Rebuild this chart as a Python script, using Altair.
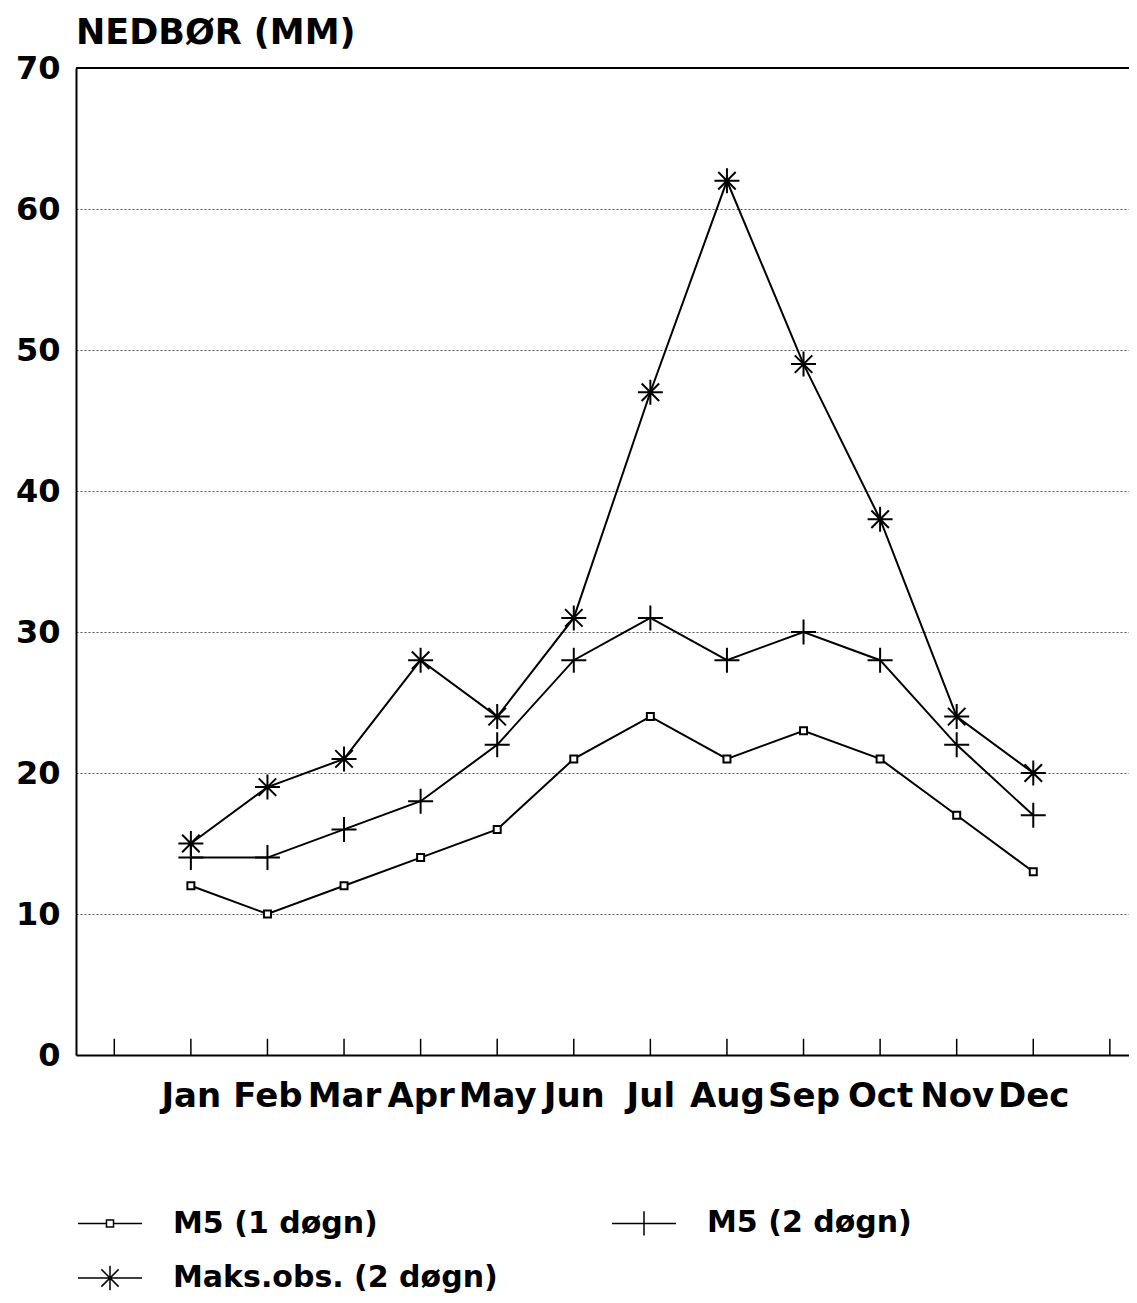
import altair as alt
import pandas as pd

MONTHS = ["Jan", "Feb", "Mar", "Apr", "May", "Jun", "Jul", "Aug", "Sep", "Oct", "Nov", "Dec"]
MONTH_NUM = list(range(1, 13))
SERIES = ["M5 (1 døgn)", "M5 (2 døgn)", "Maks.obs. (2 døgn)"]
M5_1 = [12, 10, 12, 14, 16, 21, 24, 21, 23, 21, 17, 13]
M5_2 = [14, 14, 16, 18, 22, 28, 31, 28, 30, 28, 22, 17]
MAKS = [15, 19, 21, 28, 24, 31, 47, 62, 49, 38, 24, 20]
X_TICKS = list(range(0, 14))
Y_TICKS = [0, 10, 20, 30, 40, 50, 60, 70]
X_DOMAIN = [-0.5, 13.25]
Y_DOMAIN = [0, 70]
TITLE = "NEDBØR (MM)"

FONT = "DejaVu Sans"

rows = []
for name, vals in zip(SERIES, [M5_1, M5_2, MAKS]):
    for m, v in zip(MONTH_NUM, vals):
        rows.append({"month": m, "value": v, "series": name})
df = pd.DataFrame(rows)
ticks_df = pd.DataFrame({"tick": X_TICKS})
top_df = pd.DataFrame({"a": [X_DOMAIN[0]], "b": [X_DOMAIN[1]], "y": [Y_DOMAIN[1]]})

# marker paths (plot)
MARKERS = [
    "M-0.28,-0.28H0.28V0.28H-0.28Z",
    "M-1,0H1M0,-1V1",
    "M-1,0H1M0,-1V1M-0.7,-0.7L0.7,0.7M-0.7,0.7L0.7,-0.7",
]
# legend symbol paths (line + marker)
LEG_MARKERS = [
    "M-1,0H-0.11M0.11,0H1M-0.11,-0.11H0.11V0.11H-0.11Z",
    "M-1,0H1M0,-0.38V0.38",
    "M-1,0H1M0,-0.38V0.38M-0.27,-0.27L0.27,0.27M-0.27,0.27L0.27,-0.27",
]

month_label_expr = "[" + ",".join("'%s'" % m for m in MONTHS) + "][datum.value - 1]"

x_axis = alt.Axis(values=MONTH_NUM, labelExpr=month_label_expr, ticks=False, tickSize=0,
                  grid=False, title=None, labelFont=FONT, labelFontSize=34,
                  labelFontWeight="bold", labelColor="black", labelPadding=24,
                  domainColor="black", domainWidth=2, labelFlush=False, labelOverlap=False)
y_axis = alt.Axis(values=Y_TICKS, grid=True, gridDash=[2, 2], gridColor="#555",
                  gridWidth=1, ticks=False, tickSize=0, title=None, labelFont=FONT,
                  labelFontSize=32, labelFontWeight="bold", labelColor="black",
                  labelPadding=16, domainColor="black", domainWidth=2)
x_scale = alt.Scale(domain=X_DOMAIN, nice=False, zero=False)
y_scale = alt.Scale(domain=Y_DOMAIN, nice=False)

X = alt.X("month:Q", scale=x_scale, axis=x_axis)
Y = alt.Y("value:Q", scale=y_scale, axis=y_axis)

base = alt.Chart(df)

lines = base.mark_line(color="black", strokeWidth=2).encode(
    x=X, y=Y, detail="series:N"
)

points = base.mark_point(filled=True, fill="white", stroke="black", strokeWidth=2,
                         size=625, opacity=1).encode(
    x=X, y=Y,
    shape=alt.Shape("series:N", scale=alt.Scale(domain=SERIES, range=MARKERS), legend=None),
)

tick_rules = alt.Chart(ticks_df).mark_rule(color="black", strokeWidth=1.5).encode(
    x=alt.X("tick:Q", scale=x_scale, axis=x_axis),
    y=alt.YDatum(0),
    y2=alt.Y2Datum(1.15),
)

top_rule = alt.Chart(top_df).mark_rule(color="black", strokeWidth=2).encode(
    x=alt.X("a:Q", scale=x_scale, axis=x_axis),
    x2="b:Q",
    y=alt.Y("y:Q", scale=y_scale, axis=y_axis),
)

legend_layer = base.mark_point(opacity=0, size=10).encode(
    x=X, y=Y,
    shape=alt.Shape(
        "series:N",
        scale=alt.Scale(domain=SERIES, range=LEG_MARKERS),
        legend=alt.Legend(
            title=None, orient="none", legendX=1, legendY=1122, columns=2,
            direction="horizontal",
            columnPadding=111, rowPadding=6, symbolSize=4096,
            symbolStrokeColor="black", symbolFillColor="white", symbolStrokeWidth=1.5,
            symbolOpacity=1, labelFont=FONT, labelFontSize=30, labelFontWeight="bold",
            labelColor="black", labelOffset=30, labelLimit=600, padding=0,
        ),
    ),
)

chart = alt.layer(lines, points, tick_rules, top_rule, legend_layer).resolve_scale(
    shape="independent"
).properties(
    width=1053,
    height=987,
    title=alt.TitleParams(TITLE, anchor="start", frame="group", font=FONT, fontSize=35,
                          fontWeight="bold", offset=1, color="black"),
    autosize=alt.AutoSizeParams(type="none"),
    padding={"left": 68, "top": 60, "right": 0, "bottom": 245},
).configure_view(stroke=None).configure(background="white")

chart.save("out.html", embed_options={"renderer": "svg", "actions": False})
